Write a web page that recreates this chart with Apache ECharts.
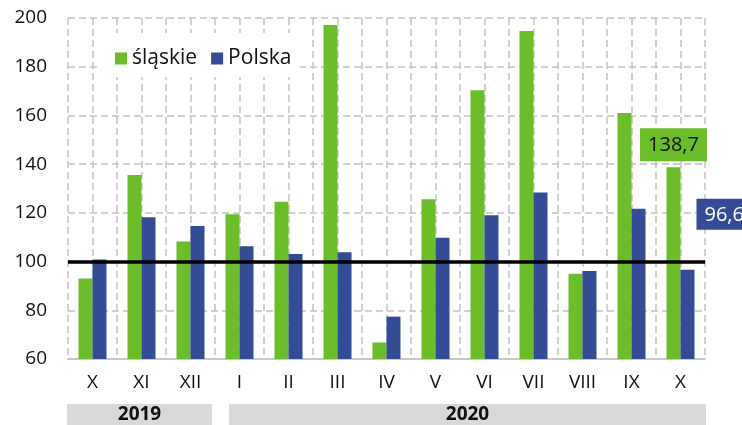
<!DOCTYPE html>
<html>
<head>
<meta charset="utf-8">
<script src="https://cdn.jsdelivr.net/npm/echarts@6/dist/echarts.min.js"></script>
<style>
html, body { margin: 0; padding: 0; background: #fff; }
#chart { width: 742px; height: 425px; }
</style>
</head>
<body>
<div id="chart"></div>
<script>
// dane
const months = ['X', 'XI', 'XII', 'I', 'II', 'III', 'IV', 'V', 'VI', 'VII', 'VIII', 'IX', 'X'];
const slaskie = [93.1, 135.5, 108.2, 119.4, 124.6, 197.1, 66.8, 125.6, 170.3, 194.7, 95.0, 161.0, 138.7];
const polska = [100.9, 118.2, 114.6, 106.3, 103.1, 103.8, 77.4, 109.8, 119.0, 128.4, 96.1, 121.7, 96.6];
const years = ['2019', '2020'];
const yearFrom = [0, 3];   // indeks pierwszego miesiaca
const yearTo = [2, 12];    // indeks ostatniego miesiaca
const baseLine = 100;

const GREEN = '#6bbd2a';
const BLUE = '#344b95';
const FONT = 'Open Sans';

const chart = echarts.init(document.getElementById('chart'));
const last = months.length - 1;

const option = {
    animation: false,
    textStyle: { fontFamily: FONT },
    grid: { left: 68, right: 37, top: 18, bottom: 66 },
    legend: {
        left: 100,
        top: 33,
        padding: [15, 8, 8, 15],
        backgroundColor: '#fff',
        itemWidth: 12,
        itemHeight: 12,
        itemGap: 14,
        icon: 'rect',
        textStyle: { fontSize: 21, color: '#111', fontFamily: FONT },
        data: ['śląskie', 'Polska']
    },
    xAxis: [
        {
            type: 'category',
            data: months,
            axisLine: { lineStyle: { color: '#c8c8c8', width: 2 } },
            axisTick: { show: false },
            axisLabel: { fontSize: 19, color: '#111', margin: 14, fontFamily: FONT },
            splitLine: { show: false }
        },
        {
            // pomocnicza os do siatki co pol kategorii
            type: 'value',
            position: 'top',
            min: 0,
            max: months.length * 2,
            interval: 1,
            axisLine: { show: false },
            axisTick: { show: false },
            axisLabel: { show: false },
            splitLine: { show: true, lineStyle: { color: '#c4c4c4', type: [7, 4], width: 1.5 } }
        }
    ],
    yAxis: {
        type: 'value',
        min: 60,
        max: 200,
        interval: 20,
        axisLine: { show: false },
        axisTick: { show: false },
        axisLabel: { fontSize: 19, color: '#111', margin: 21, fontFamily: FONT },
        splitLine: { lineStyle: { color: '#c4c4c4', type: [7, 4], width: 1.5 } }
    },
    series: [
        {
            name: 'śląskie',
            type: 'bar',
            barWidth: 14,
            barGap: '0%',
            itemStyle: { color: GREEN },
            data: slaskie.map((v, i) => i === last ? {
                value: v,
                label: {
                    show: true,
                    position: 'top',
                    distance: 6,
                    backgroundColor: GREEN,
                    padding: [7, 8, 6, 8],
                    color: '#111',
                    fontSize: 20,
                    fontFamily: FONT,
                    formatter: p => p.value.toFixed(1).replace('.', ',')
                }
            } : v),
            markLine: {
                silent: true,
                symbol: 'none',
                label: { show: false },
                lineStyle: { color: '#000', type: 'solid', width: 3.5 },
                data: [{ yAxis: baseLine }]
            },
            z: 3
        },
        {
            name: 'Polska',
            type: 'bar',
            barWidth: 14,
            itemStyle: { color: BLUE },
            data: polska.map((v, i) => i === last ? {
                value: v,
                label: {
                    show: true,
                    position: [16, -71],
                    backgroundColor: BLUE,
                    padding: [6, 8, 5, 8],
                    color: '#fff',
                    fontSize: 20,
                    fontFamily: FONT,
                    formatter: p => p.value.toFixed(1).replace('.', ',')
                }
            } : v),
            z: 3
        }
    ]
};
chart.setOption(option);

// paski z latami pod osia
const insetL = [-1, 14];
const insetR = [3, -1];
const graphics = [];
years.forEach((y, k) => {
    const x0 = chart.convertToPixel({ xAxisIndex: 1 }, yearFrom[k] * 2) + insetL[k];
    const x1 = chart.convertToPixel({ xAxisIndex: 1 }, (yearTo[k] + 1) * 2) - insetR[k];
    graphics.push({
        type: 'rect',
        shape: { x: x0, y: 404, width: x1 - x0, height: 21 },
        style: { fill: '#d9d9d9' }
    });
    graphics.push({
        type: 'text',
        x: (x0 + x1) / 2,
        y: 415,
        style: {
            text: y,
            fontFamily: FONT,
            fontSize: 19,
            fontWeight: 'bold',
            fill: '#111',
            align: 'center',
            verticalAlign: 'middle'
        }
    });
});
chart.setOption({ graphic: graphics });
</script>
</body>
</html>
